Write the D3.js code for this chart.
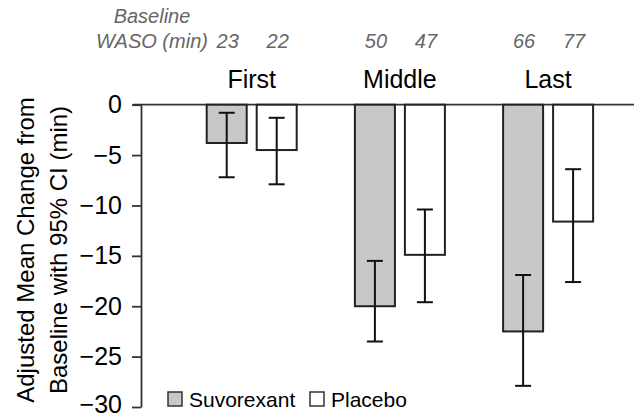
<!DOCTYPE html>
<html>
<head>
<meta charset="utf-8">
<script src="https://cdn.jsdelivr.net/npm/d3@7"></script>
<style>
  html, body { margin: 0; padding: 0; background: #fff; }
  svg { display: block; font-family: "Liberation Sans", Arial, sans-serif; }
</style>
</head>
<body>
<svg id="chart" width="636" height="416"></svg>
<script>
// night thirds and treatment groups
var periods = ['First', 'Middle', 'Last'];
var groups = ['Suvorexant', 'Placebo'];

// baseline WASO (min) per third
var suvBaseline = [23, 50, 66];
var plaBaseline = [22, 47, 77];

// adjusted mean change from baseline, with 95% CI bounds
var suvMean = [-3.8, -20.0, -22.5];
var suvLow = [-7.2, -23.5, -27.9];
var suvHigh = [-0.8, -15.5, -16.9];

var plaMean = [-4.5, -14.9, -11.6];
var plaLow = [-7.9, -19.6, -17.6];
var plaHigh = [-1.3, -10.4, -6.4];

var yTicks = [0, -5, -10, -15, -20, -25, -30];

((d3) => {
    var svg = d3.select('#chart');

    var axisX = 141;
    var fillOf = { Suvorexant: '#c8c8c8', Placebo: '#ffffff' };

    // build rows the marks are drawn from
    var rows = [];
    periods.forEach(function (p, i) {
        rows.push({ period: p, group: 'Suvorexant', mean: suvMean[i], low: suvLow[i], high: suvHigh[i], base: suvBaseline[i] });
        rows.push({ period: p, group: 'Placebo', mean: plaMean[i], low: plaLow[i], high: plaHigh[i], base: plaBaseline[i] });
    });

    var y = d3.scaleLinear().domain([-30, 0]).range([407, 104.7]);

    var x0 = d3.scaleBand().domain(periods).range([177.6, 622.2]);
    var xi = d3.scaleBand().domain(groups).range([-45, 45]).paddingInner(0.2);

    function center(p) { return x0(p) + x0.bandwidth() / 2; }
    function barMid(d) { return center(d.period) + xi(d.group) + xi.bandwidth() / 2; }

    // zero line across the plot
    svg.append('line')
        .attr('x1', 133).attr('x2', 634)
        .attr('y1', y(0)).attr('y2', y(0))
        .attr('stroke', '#333').attr('stroke-width', 1.8);

    // y axis
    var ax = svg.append('g')
        .attr('transform', 'translate(' + axisX + ',0)')
        .call(d3.axisLeft(y).tickValues(yTicks).tickSize(9).tickSizeOuter(0).tickPadding(10).tickFormat(d3.format('d')));
    ax.select('.domain').attr('stroke', '#333').attr('stroke-width', 1.8);
    ax.selectAll('.tick line').attr('stroke', '#333').attr('stroke-width', 1.8);
    ax.selectAll('.tick text')
        .attr('font-size', 25)
        .attr('fill', '#000')
        .attr('font-family', '"Liberation Sans", Arial, sans-serif');
    // bottom label sits on the picture edge, keep it inside
    ax.selectAll('.tick text')
        .filter(function (d) { return d === -30; })
        .attr('dy', '0.2em');

    // bars
    svg.append('g').selectAll('rect')
        .data(rows)
        .enter()
        .append('rect')
        .attr('x', function (d) { return center(d.period) + xi(d.group); })
        .attr('y', y(0))
        .attr('width', xi.bandwidth())
        .attr('height', function (d) { return y(d.mean) - y(0); })
        .attr('fill', function (d) { return fillOf[d.group]; })
        .attr('stroke', '#222')
        .attr('stroke-width', 2);

    // error bars
    var eb = svg.append('g').selectAll('g')
        .data(rows)
        .enter()
        .append('g')
        .attr('stroke', '#111')
        .attr('stroke-width', 2);
    eb.append('line')
        .attr('x1', barMid).attr('x2', barMid)
        .attr('y1', function (d) { return y(d.high); })
        .attr('y2', function (d) { return y(d.low); });
    eb.append('line')
        .attr('x1', function (d) { return barMid(d) - 8; })
        .attr('x2', function (d) { return barMid(d) + 8; })
        .attr('y1', function (d) { return y(d.high); })
        .attr('y2', function (d) { return y(d.high); });
    eb.append('line')
        .attr('x1', function (d) { return barMid(d) - 8; })
        .attr('x2', function (d) { return barMid(d) + 8; })
        .attr('y1', function (d) { return y(d.low); })
        .attr('y2', function (d) { return y(d.low); });

    // period labels
    svg.append('g').selectAll('text')
        .data(periods)
        .enter()
        .append('text')
        .attr('x', center)
        .attr('y', 88)
        .attr('text-anchor', 'middle')
        .attr('font-size', 25)
        .attr('fill', '#000')
        .text(function (d) { return d; });

    // baseline WASO header and values
    var grey = '#666';
    var head = svg.append('g')
        .attr('font-style', 'italic')
        .attr('font-size', 20)
        .attr('fill', grey);
    head.append('text').attr('x', 152).attr('y', 23).attr('text-anchor', 'middle').text('Baseline');
    head.append('text').attr('x', 152).attr('y', 48).attr('text-anchor', 'middle').text('WASO (min)');
    head.selectAll('text.base')
        .data(rows)
        .enter()
        .append('text')
        .attr('class', 'base')
        .attr('x', function (d) { return barMid(d) + 1; })
        .attr('y', 48)
        .attr('text-anchor', 'middle')
        .text(function (d) { return d.base; });

    // y axis title, two lines
    var title = svg.append('text')
        .attr('transform', 'translate(0,250) rotate(-90)')
        .attr('text-anchor', 'middle')
        .attr('font-size', 24)
        .attr('fill', '#000');
    title.append('tspan').attr('x', 0).attr('y', 34).text('Adjusted Mean Change from');
    title.append('tspan').attr('x', 0).attr('y', 67).text('Baseline with 95% CI (min)');

    // legend
    var legX = [168, 310];
    var leg = svg.append('g').selectAll('g')
        .data(groups)
        .enter()
        .append('g')
        .attr('transform', function (d, i) { return 'translate(' + legX[i] + ',392)'; });
    leg.append('rect')
        .attr('width', 14).attr('height', 14)
        .attr('fill', function (d) { return fillOf[d]; })
        .attr('stroke', '#333')
        .attr('stroke-width', 1.5);
    leg.append('text')
        .attr('x', 21)
        .attr('y', 15)
        .attr('font-size', 21)
        .attr('fill', '#000')
        .text(function (d) { return d; });
})(window.d3);
</script>
</body>
</html>
